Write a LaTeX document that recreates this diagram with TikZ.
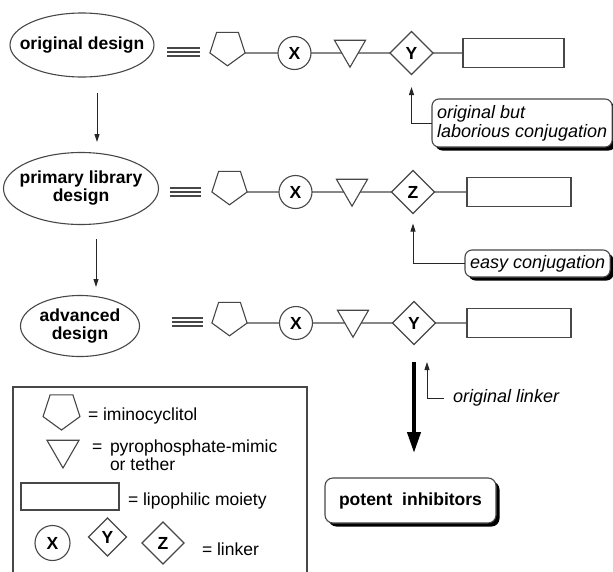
\documentclass[tikz,border=0pt]{standalone}
\usepackage{fontspec}
\setmainfont{Liberation Sans}
\usetikzlibrary{shapes.geometric,arrows.meta,shadows,backgrounds}
\begin{document}
\begin{tikzpicture}[x=1pt,y=-1pt,
  every node/.style={inner sep=0pt, outer sep=0pt},
  lc/.style={draw=black!72, line width=1.1pt},
  fnt/.style={font=\fontsize{17.5}{18}\selectfont},
  bfnt/.style={font=\bfseries\fontsize{17.5}{18}\selectfont},
  ifnt/.style={font=\itshape\fontsize{18}{19}\selectfont},
  ell/.style={lc, ellipse},
  pent/.style={lc, fill=white, regular polygon, regular polygon sides=5, shape border rotate=180, minimum size=37pt},
  tri/.style={lc, fill=white, regular polygon, regular polygon sides=3, shape border rotate=180, minimum size=36pt},
  circ/.style={lc, fill=white, circle, minimum size=33pt, bfnt},
  dia/.style={lc, fill=white, diamond, minimum width=43pt, minimum height=43pt, bfnt},
  moiety/.style={lc, fill=white, rectangle, minimum height=29pt},
  arr/.style={draw=black!85, line width=1pt, -{Triangle[length=8pt,width=5pt]}},
  bigarr/.style={draw=black, line width=4pt, -{Triangle[length=21pt,width=13pt]}},
  shbox/.style={lc, fill=white, rounded corners=7pt,
    drop shadow={shadow xshift=3.5pt, shadow yshift=-3.5pt, fill=black, opacity=1}},
]
\useasboundingbox (0,0) rectangle (613,571);

% design ellipses
\node[ell, minimum width=144pt, minimum height=64pt,
      label={[bfnt]center:original design}] (E1) at (82,45) {};
\node[ell, minimum width=155pt, minimum height=72pt,
      label={[bfnt, align=center]center:primary library\\design}] (E2) at (81,188.5) {};
\node[ell, minimum width=119pt, minimum height=61pt,
      label={[bfnt, align=center]center:advanced\\design}] (E3) at (80,326) {};

\coordinate (a1s) at (97,93);  \coordinate (a1e) at (97,142);
\coordinate (a2s) at (96,239); \coordinate (a2e) at (96,287);
\draw[arr] (a1s) -- (a1e);
\draw[arr] (a2s) -- (a2e);

% equivalence signs
\draw[lc] (167,48) -- (200,48) (167,52) -- (200,52) (167,56) -- (200,56);
\draw[lc] (170,188) -- (201,188) (170,192) -- (201,192) (170,196) -- (201,196);
\draw[lc] (172,318) -- (203,318) (172,322) -- (203,322) (172,326) -- (203,326);

% row 1
\node[pent] (P1) at (227.5,47.3) {};
\node[circ] (X1) at (294.5,53) {X};
\node[tri] (T1) at (350,49.2) {};
\node[dia] (Y1) at (411.5,53) {Y};
\node[moiety, minimum width=101pt] (R1) at (513.5,53) {};
% row 2
\node[pent] (P2) at (229.5,186.3) {};
\node[circ] (X2) at (295.5,192) {X};
\node[tri] (T2) at (352,188.2) {};
\node[dia] (Z2) at (413,192) {Z};
\node[moiety, minimum width=104pt] (R2) at (519,192) {};
% row 3
\node[pent] (P3) at (229.5,317.3) {};
\node[circ] (X3) at (296,323) {X};
\node[tri] (T3) at (353,319.2) {};
\node[dia] (Y3) at (414,323) {Y};
\node[moiety, minimum width=104pt] (R3) at (519,323) {};

\begin{scope}[on background layer]
\fill[white] (0,0) rectangle (613,571);
\draw[lc] (P1.-18) -- (R1.west);
\draw[lc] (P2.-18) -- (R2.west);
\draw[lc] (P3.-18) -- (R3.west);
\end{scope}

% callouts
\node[shbox, ifnt, align=left, anchor=west, minimum width=180pt, minimum height=48pt,
      inner xsep=5pt] (C1) at (432,123) {original but\\laborious conjugation};
\draw[arr, shorten >=12.5pt] (C1.west) -| (Y1.south);

\node[shbox, ifnt, anchor=west, minimum width=145pt, minimum height=27pt,
      inner xsep=5pt] (C2) at (465,263.5) {easy conjugation};
\draw[arr, shorten >=10pt] (C2.west) -| (Z2.south);

\node[ifnt, anchor=west, inner xsep=9pt] (OL) at (444,398) {original linker};
\coordinate (olt) at (427,362);
\draw[arr] (OL.west) -| (olt);

\node[shbox, bfnt, rounded corners=8pt, minimum width=171pt, minimum height=45pt]
      (PI) at (410.5,500.5) {potent\ \ inhibitors};
\draw[bigarr, shorten <=17.5pt, shorten >=25pt] (Y3.south) -- (Y3.south |- PI.north);

% legend
\draw[lc] (13,573) -- (13,387) -- (307,387) -- (307,573);
\node[pent, minimum size=38.8pt] (LP) at (61.5,410.6) {};
\node[fnt, anchor=west] (LPt) at (88,416) {= iminocyclitol};
\node[tri, minimum size=37pt] (LT) at (63,449.5) {};
\node[fnt, anchor=west] (LTe) at (92,448) {=};
\node[fnt, anchor=west, align=left] (LTt) at (110,455) {pyrophosphate-mimic\\or tether};
\node[moiety, minimum width=98pt, minimum height=27pt] (LR) at (70,496.5) {};
\node[fnt, anchor=west] (LRt) at (128,501) {= lipophilic moiety};
\node[circ, minimum size=35pt] (LX) at (52.5,543) {X};
\node[dia, minimum width=38pt, minimum height=38pt] (LY) at (107.5,537) {Y};
\node[dia, minimum width=42pt, minimum height=42pt] (LZ) at (163,543) {Z};
\node[fnt, anchor=west] (LL) at (202,549) {= linker};
\end{tikzpicture}
\end{document}
